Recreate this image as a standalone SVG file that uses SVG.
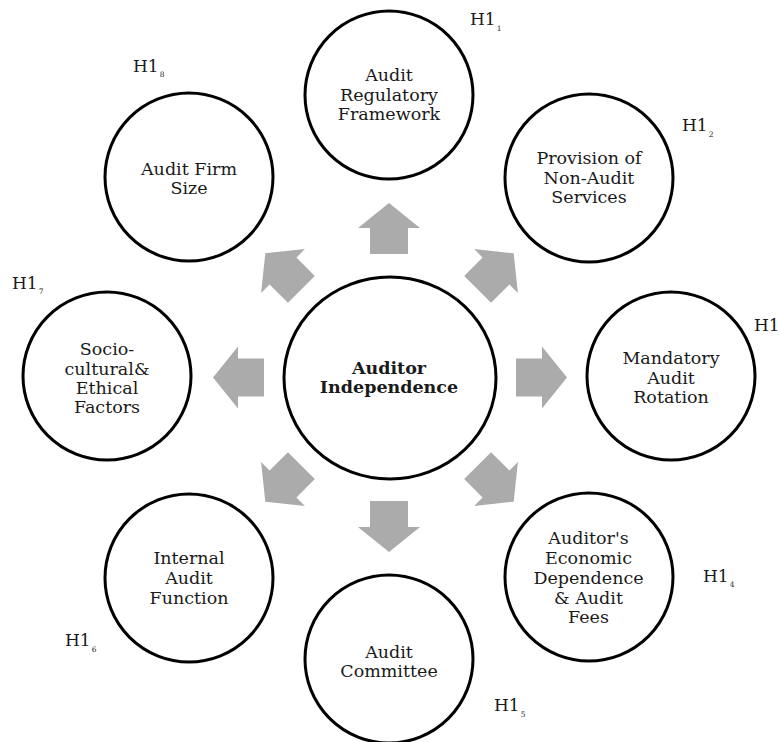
<svg xmlns="http://www.w3.org/2000/svg" xmlns:xlink="http://www.w3.org/1999/xlink" width="780" height="742" viewBox="0 0 780 742">
<style>
.c{fill:#fff;stroke:#000;stroke-width:3}
.t{font-family:"DejaVu Serif","Liberation Serif",serif;font-size:17.5px;fill:#1a1a1a;text-anchor:middle}
.b{font-weight:bold}
.h{font-family:"DejaVu Serif","Liberation Serif",serif;font-size:17px;fill:#1a1a1a}
.s{font-size:7.5px}
.a{fill:#ababab}
</style>
<defs>
<path id="arr" d="M0,-25 L31,0 L19,0 L19,26 L-19,26 L-19,0 L-31,0 Z"/>
</defs>
<rect width="780" height="742" fill="#fff"/>
<g id="connectors" class="a">
<use xlink:href="#arr" transform="translate(389,228)"/>
<use xlink:href="#arr" transform="translate(496,271) rotate(45)"/>
<use xlink:href="#arr" transform="translate(542,377.5) rotate(90)"/>
<use xlink:href="#arr" transform="translate(496,484) rotate(135)"/>
<use xlink:href="#arr" transform="translate(389,527) rotate(180)"/>
<use xlink:href="#arr" transform="translate(283,484) rotate(-135)"/>
<use xlink:href="#arr" transform="translate(238,377.5) rotate(-90)"/>
<use xlink:href="#arr" transform="translate(283,271) rotate(-45)"/>
</g>
<g id="center">
<ellipse class="c" cx="390" cy="378" rx="106" ry="101"/>
<text class="t b" x="389" y="374">Auditor</text>
<text class="t b" x="389" y="393">Independence</text>
</g>
<g id="n1">
<circle class="c" cx="389" cy="95" r="84"/>
<text class="t" x="389" y="81">Audit</text>
<text class="t" x="389" y="100.5">Regulatory</text>
<text class="t" x="389" y="120">Framework</text>
</g>
<g id="n2">
<circle class="c" cx="589" cy="178" r="84"/>
<text class="t" x="589" y="164">Provision of</text>
<text class="t" x="589" y="183.5">Non-Audit</text>
<text class="t" x="589" y="203">Services</text>
</g>
<g id="n3">
<circle class="c" cx="671" cy="376" r="84"/>
<text class="t" x="671" y="364">Mandatory</text>
<text class="t" x="671" y="383.5">Audit</text>
<text class="t" x="671" y="403">Rotation</text>
</g>
<g id="n4">
<circle class="c" cx="589" cy="577" r="84"/>
<text class="t" x="588.5" y="543.5">Auditor's</text>
<text class="t" x="588.5" y="563.5">Economic</text>
<text class="t" x="588.5" y="583.5">Dependence</text>
<text class="t" x="588.5" y="603.5">&amp; Audit</text>
<text class="t" x="588.5" y="623">Fees</text>
</g>
<g id="n5">
<circle class="c" cx="389" cy="659" r="84"/>
<text class="t" x="389" y="657.5">Audit</text>
<text class="t" x="389" y="677">Committee</text>
</g>
<g id="n6">
<circle class="c" cx="189" cy="578" r="84"/>
<text class="t" x="189" y="564">Internal</text>
<text class="t" x="189" y="584">Audit</text>
<text class="t" x="189" y="604">Function</text>
</g>
<g id="n7">
<circle class="c" cx="107" cy="376" r="84"/>
<text class="t" x="107" y="355">Socio-</text>
<text class="t" x="107" y="374.5">cultural&amp;</text>
<text class="t" x="107" y="393.5">Ethical</text>
<text class="t" x="107" y="413">Factors</text>
</g>
<g id="n8">
<circle class="c" cx="189" cy="177" r="84"/>
<text class="t" x="189" y="174.5">Audit Firm</text>
<text class="t" x="189" y="194">Size</text>
</g>
<g id="labels">
<text class="h" x="470" y="25">H1<tspan class="s" dx="1" dy="6">1</tspan></text>
<text class="h" x="682" y="131">H1<tspan class="s" dx="1" dy="6">2</tspan></text>
<text class="h" x="754" y="331">H1</text>
<text class="h" x="703" y="582">H1<tspan class="s" dx="1" dy="5">4</tspan></text>
<text class="h" x="494" y="711">H1<tspan class="s" dx="1" dy="6">5</tspan></text>
<text class="h" x="65" y="646">H1<tspan class="s" dx="1" dy="6">6</tspan></text>
<text class="h" x="12" y="289">H1<tspan class="s" dx="1" dy="5">7</tspan></text>
<text class="h" x="133" y="72">H1<tspan class="s" dx="1" dy="5">8</tspan></text>
</g>
</svg>
